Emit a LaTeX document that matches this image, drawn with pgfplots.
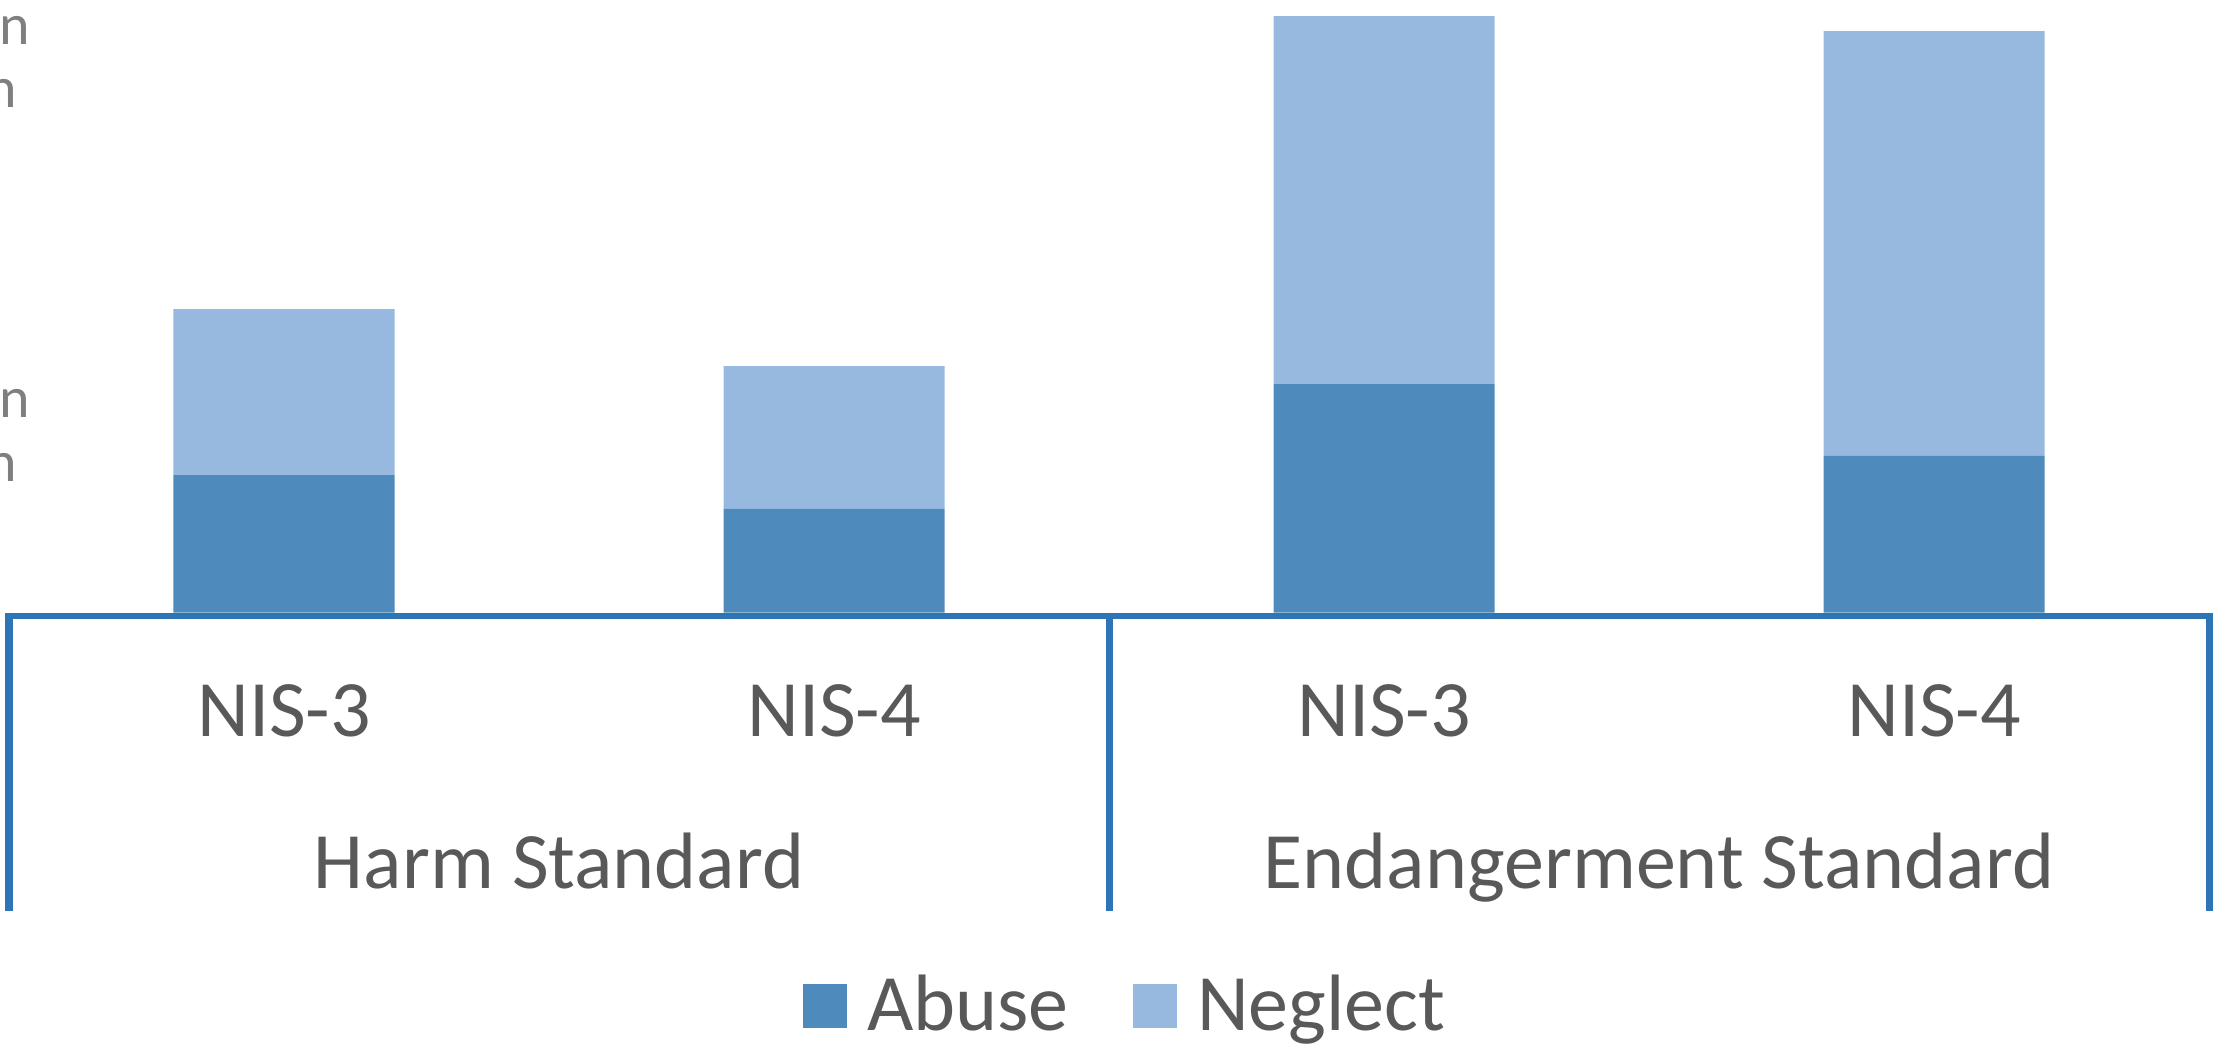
\documentclass[border=0pt]{standalone}
\usepackage{fontspec}
\setmainfont{Carlito}
\usepackage{pgfplots}
\pgfplotsset{compat=1.18}
\definecolor{abuse}{HTML}{4F8ABD}
\definecolor{neglect}{HTML}{98B9DF}
\definecolor{axisblue}{HTML}{2E75B6}
\definecolor{gridgray}{HTML}{D9D9D9}
\definecolor{txt}{HTML}{595959}
\definecolor{ltxt}{HTML}{7F7F7F}
\newcommand{\lbl}{\fontsize{20bp}{23bp}\selectfont}
\begin{document}
\begin{tikzpicture}
\begin{axis}[
  at={(2.25bp,108.875bp)}, anchor=south west,
  scale only axis, width=550bp, height=153.125bp,
  xmin=-0.5, xmax=3.5, ymin=0, ymax=3.2667,
  ybar stacked, bar width=55.25bp,
  axis lines=left,
  hide y axis,
  x axis line style={-, draw=axisblue, line width=1.5bp, yshift=-0.75bp},
  ytick={1,2,3},
  ymajorgrids, grid style={draw=gridgray, line width=1.25bp},
  xtick={0,1,2,3}, xticklabels={NIS-3,NIS-4,NIS-3,NIS-4},
  major tick length=0pt,
  xticklabel style={anchor=base, yshift=-31.1bp, font=\lbl, text=txt, inner sep=0pt},
  clip=false,
  legend columns=2,
  legend style={at={(0,0)}, anchor=south west, xshift=198.5bp, yshift=-104.6bp,
    draw=none, fill=none, inner sep=0pt, outer sep=0pt, font=\lbl, text=txt,
    /tikz/every odd column/.append style={column sep=5bp},
    /tikz/every even column/.append style={column sep=16.2bp},
    nodes={inner sep=0pt, text depth=0pt}},
]
\addplot[fill=abuse, draw=none,
  legend image code/.code={\fill[abuse] (0bp,-6.2bp) rectangle (11bp,4.8bp);}]
  coordinates {(0,0.733) (1,0.552) (2,1.218) (3,0.835)};
\addlegendentry{Abuse}
\addplot[fill=neglect, draw=none,
  legend image code/.code={\fill[neglect] (0bp,-6.2bp) rectangle (11bp,4.8bp);}]
  coordinates {(0,0.885) (1,0.762) (2,1.963) (3,2.265)};
\addlegendentry{Neglect}
\draw[axisblue, line width=1.75bp] (axis cs:-0.5,0) -- ++(0pt,-74.6bp);
\draw[axisblue, line width=1.75bp] (axis cs:1.5,0) -- ++(0pt,-74.6bp);
\draw[axisblue, line width=1.75bp] (axis cs:3.5,0) -- ++(0pt,-74.6bp);
\node[anchor=base, inner sep=0pt, text=txt, font=\lbl] at ([yshift=-68.9bp]axis cs:0.5,0) {Harm Standard};
\node[anchor=base, inner sep=0pt, text=txt, font=\lbl] at ([yshift=-68.9bp]axis cs:2.5,0) {Endangerment Standard};
\end{axis}
\begin{scope}[every node/.style={anchor=base east, inner sep=0pt, text=ltxt, font=\fontsize{14.5bp}{17bp}\selectfont}]
\node at (7.75bp,250.75bp) {n};
\node at (4.5bp,235bp) {n};
\node at (7.75bp,157.5bp) {n};
\node at (4.5bp,141.5bp) {n};
\end{scope}
\pgfresetboundingbox
\useasboundingbox (0,0) rectangle (556bp,262bp);
\end{tikzpicture}
\end{document}
